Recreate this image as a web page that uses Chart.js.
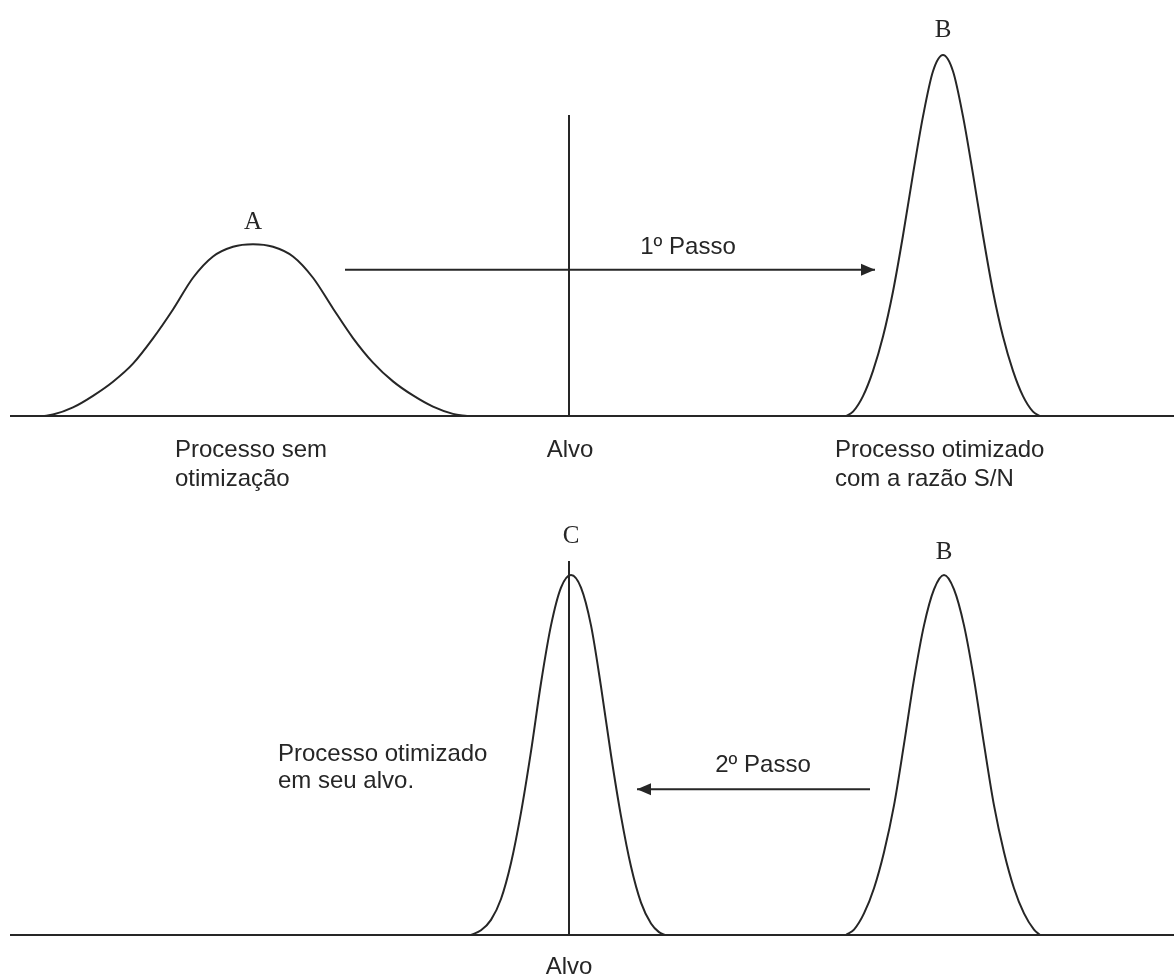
<!DOCTYPE html>
<html>
<head>
<meta charset="utf-8">
<script src="https://cdn.jsdelivr.net/npm/chart.js@4.4.0/dist/chart.umd.min.js"></script>
<style>
  html, body { margin: 0; padding: 0; background: #ffffff; }
  #wrap { position: relative; width: 1174px; height: 976px; overflow: hidden; }
  canvas { position: absolute; left: 0; display: block; }
</style>
</head>
<body>
<div id="wrap">
  <canvas id="chartTop" width="1174" height="500" style="top:0"></canvas>
  <canvas id="chartBottom" width="1174" height="476" style="top:500px"></canvas>
</div>
<script>
// ---------- DATA (x: process scale, Alvo = 50; y: relative frequency, peak of B = 100) ----------
// Top panel: A = processo sem otimização, B = processo otimizado com a razão S/N
const curveA_x = [-2.6, -1.6, 0.4, 2.4, 4.4, 6.4, 8.4, 10.4, 12.4, 14.4, 16.4, 18.4, 20.4, 22.4, 24.4, 26.4, 28.4, 30.4, 32.4, 34.4, 36.4, 38.4, 39.8];
const curveA_y = [0, 0.4, 2.4, 5.6, 9.5, 14.5, 21.5, 29.5, 38.3, 44.2, 46.9, 47.6, 46.9, 44.2, 38.3, 29.8, 21.6, 14.8, 9.6, 5.7, 2.6, 0.6, 0];

const curveB1_x = [77.7, 78.4, 79.4, 80.4, 81.4, 82.4, 83.4, 84.4, 85.4, 86.4, 87.4, 88.4, 89.4, 90.4, 91.4, 92.4, 93.4, 94.4, 95.4, 96.4, 97.1];
const curveB1_y = [0, 1.2, 5.5, 12.5, 22.0, 34.5, 50.0, 67.0, 83.0, 95.5, 100, 95.5, 83.0, 67.0, 50.0, 34.5, 22.0, 12.5, 5.5, 1.2, 0];

// Bottom panel: C = processo otimizado em seu alvo, B = processo otimizado (antes do 2º passo)
const curveC_x = [40.2, 41.2, 42.2, 43.2, 44.2, 45.2, 46.2, 47.2, 48.2, 49.2, 50.2, 51.2, 52.2, 53.2, 54.2, 55.2, 56.2, 57.2, 58.2, 59.0, 59.6];
const curveC_y = [0, 1.3, 4.2, 10.0, 20.0, 34.0, 51.0, 70.0, 86.0, 96.5, 100, 96.5, 86.0, 69.0, 50.0, 33.0, 19.0, 9.0, 3.2, 0.8, 0];

const curveB2_x = [77.7, 78.5, 79.5, 80.5, 81.5, 82.5, 83.5, 84.5, 85.5, 86.5, 87.5, 88.5, 89.5, 90.5, 91.5, 92.5, 93.5, 94.5, 95.5, 96.5, 97.1];
const curveB2_y = [0, 1.5, 6.0, 13.0, 23.0, 36.0, 53.0, 71.0, 86.0, 96.0, 100, 96.0, 86.0, 71.0, 53.0, 36.0, 23.0, 13.0, 6.0, 1.5, 0];

// Reference lines and steps
const baseline_x = [-5.9, 110.5];
const target_x = 50;                 // Alvo
const targetTop_height = 83.4;
const targetBottom_height = 103.9;
const step1_x = [27.6, 80.6];        // 1º Passo (A -> B)
const step2_x = [80.1, 56.8];        // 2º Passo (B -> C)
const step_level = 40.5;

// Texts
const textsTop = ['A', 'B', '1º Passo', 'Processo sem', 'otimização', 'Alvo', 'Processo otimizado', 'com a razão S/N'];
const textsBottom = ['C', 'B', '2º Passo', 'Processo otimizado', 'em seu alvo.', 'Alvo'];

// ---------- helpers ----------
const INK = '#262626';
const zip = (xs, ys) => xs.map((x, i) => ({ x, y: ys[i] }));
const hline = (xs, y) => xs.map(x => ({ x, y }));

function curveDS(points) {
  return { data: points, borderColor: INK, borderWidth: 2, pointRadius: 0, fill: false,
           cubicInterpolationMode: 'monotone', clip: false };
}
function straightDS(points, w) {
  return { data: points, borderColor: INK, borderWidth: w || 2, pointRadius: 0, fill: false,
           tension: 0, clip: false };
}

const SANS = '24px "Liberation Sans", Arial, sans-serif';
const SERIF = '25px "Liberation Serif", "Times New Roman", serif';

// annotation plugin: texts and arrowheads positioned through the chart scales
const annotate = {
  id: 'annotate',
  afterDatasetsDraw(chart, args, opts) {
    const ctx = chart.ctx, xs = chart.scales.x, ys = chart.scales.y;
    ctx.save();
    ctx.fillStyle = INK;
    (opts.labels || []).forEach(l => {
      ctx.font = l.font;
      ctx.textAlign = l.align || 'center';
      ctx.textBaseline = 'middle';
      ctx.fillText(l.text, xs.getPixelForValue(l.x), ys.getPixelForValue(l.y));
    });
    (opts.arrows || []).forEach(a => {
      const ds = chart.data.datasets[a.dataset].data;
      const p1 = ds[ds.length - 2], p2 = ds[ds.length - 1];
      const x1 = xs.getPixelForValue(p1.x), y1 = ys.getPixelForValue(p1.y);
      const x2 = xs.getPixelForValue(p2.x), y2 = ys.getPixelForValue(p2.y);
      const ang = Math.atan2(y2 - y1, x2 - x1), L = 14, W = 6;
      ctx.beginPath();
      ctx.moveTo(x2, y2);
      ctx.lineTo(x2 - L * Math.cos(ang) + W * Math.sin(ang), y2 - L * Math.sin(ang) - W * Math.cos(ang));
      ctx.lineTo(x2 - L * Math.cos(ang) - W * Math.sin(ang), y2 - L * Math.sin(ang) + W * Math.cos(ang));
      ctx.closePath();
      ctx.fill();
    });
    ctx.restore();
  }
};

function makeChart(id, datasets, yMin, yMax, annot) {
  return new Chart(document.getElementById(id), {
    type: 'line',
    data: { datasets },
    options: {
      responsive: false,
      animation: false,
      layout: { padding: 0 },
      plugins: { legend: { display: false }, tooltip: { enabled: false }, title: { display: false },
                 annotate: annot },
      scales: {
        x: { type: 'linear', min: -6.9, max: 110.5, display: false },
        y: { type: 'linear', min: yMin, max: yMax, display: false }
      }
    },
    plugins: [annotate]
  });
}

// ---------- top panel ----------
makeChart('chartTop', [
  straightDS(hline(baseline_x, 0)),
  curveDS(zip(curveA_x, curveA_y)),
  curveDS(zip(curveB1_x, curveB1_y)),
  straightDS([{ x: target_x, y: 0 }, { x: target_x, y: targetTop_height }]),
  straightDS(hline(step1_x, step_level))
], -23.26, 115.24, {
  labels: [
    { text: textsTop[0], x: 18.4, y: 53.7, font: SERIF },
    { text: textsTop[1], x: 87.4, y: 106.9, font: SERIF },
    { text: textsTop[2], x: 61.9, y: 46.8, font: SANS },
    { text: textsTop[3], x: 10.6, y: -9.4, font: SANS, align: 'left' },
    { text: textsTop[4], x: 10.6, y: -17.5, font: SANS, align: 'left' },
    { text: textsTop[5], x: 50.1, y: -9.4, font: SANS },
    { text: textsTop[6], x: 76.6, y: -9.4, font: SANS, align: 'left' },
    { text: textsTop[7], x: 76.6, y: -17.5, font: SANS, align: 'left' }
  ],
  arrows: [{ dataset: 4 }]
});

// ---------- bottom panel ----------
makeChart('chartBottom', [
  straightDS(hline(baseline_x, 0)),
  curveDS(zip(curveC_x, curveC_y)),
  curveDS(zip(curveB2_x, curveB2_y)),
  straightDS([{ x: target_x, y: 0 }, { x: target_x, y: targetBottom_height }]),
  straightDS(hline(step2_x, step_level))
], -11.39, 120.83, {
  labels: [
    { text: textsBottom[0], x: 50.2, y: 110.6, font: SERIF },
    { text: textsBottom[1], x: 87.5, y: 106.4, font: SERIF },
    { text: textsBottom[2], x: 69.4, y: 47.2, font: SANS },
    { text: textsBottom[3], x: 20.9, y: 50.3, font: SANS, align: 'left' },
    { text: textsBottom[4], x: 20.9, y: 42.8, font: SANS, align: 'left' },
    { text: textsBottom[5], x: 50.0, y: -8.9, font: SANS }
  ],
  arrows: [{ dataset: 4 }]
});
</script>
</body>
</html>
